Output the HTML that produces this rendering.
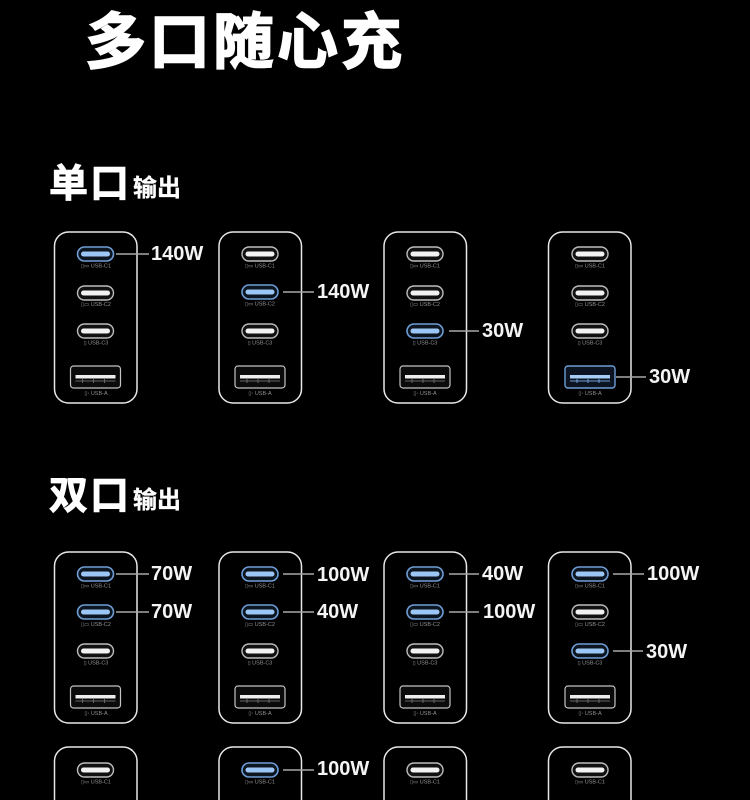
<!DOCTYPE html>
<html lang="zh"><head><meta charset="utf-8">
<style>
html,body{margin:0;padding:0;background:#000;width:750px;height:800px;overflow:hidden}
svg{display:block}
.t{font-family:"Liberation Sans","Noto Sans CJK SC",sans-serif;font-weight:700;fill:#fff}
.w{font-family:"Liberation Sans",sans-serif;font-weight:700;font-size:20px;fill:#f4f4f4}
.s{font-family:"Liberation Sans",sans-serif;font-size:5.5px;fill:#909090;text-anchor:middle}
.card{fill:none;stroke:#e8e8e8;stroke-width:1.5}
.l{stroke:#a8a8a8;stroke-width:1.4;fill:none}
</style></head><body>
<svg width="750" height="800" viewBox="0 0 750 800" xmlns="http://www.w3.org/2000/svg">
<defs>
<g id="c"><rect x="-18" y="-7" width="36" height="14" rx="7" fill="#111" stroke="#bdbdbd" stroke-width="1.4"/><rect x="-14.5" y="-2.5" width="29" height="5" rx="2.5" fill="#f2f2f2"/></g>
<g id="b"><rect x="-18" y="-7" width="36" height="14" rx="7" fill="#0d1520" stroke="#6f9ed6" stroke-width="1.6"/><rect x="-14.5" y="-2.5" width="29" height="5" rx="2.5" fill="#9cc6f5"/></g>
<g id="a"><rect x="-25" y="-11" width="50" height="22" rx="3" fill="#0b0b0b" stroke="#c4c4c4" stroke-width="1.2"/><rect x="-20" y="-2" width="40" height="3.5" fill="#eee"/><path d="M-20 4H20M-13 2V6M-2 2V6M9 2V6" stroke="#666" stroke-width="1" fill="none"/></g>
<g id="ab"><rect x="-25" y="-11" width="50" height="22" rx="3" fill="#0b1420" stroke="#6f9ed6" stroke-width="1.4"/><rect x="-20" y="-2" width="40" height="3.5" fill="#a6cdf7"/><path d="M-20 4H20M-13 2V6M-2 2V6M9 2V6" stroke="#6f9ed6" stroke-width="1" fill="none"/></g>
</defs>

<text class="t" x="85" y="63" font-size="61" letter-spacing="3" stroke="#fff" stroke-width="1.6">多口随心充</text>
<text class="t" x="49" y="197" font-size="39" letter-spacing="2" stroke="#fff" stroke-width=".9">单口</text>
<text class="t" x="133" y="196" font-size="24" stroke="#fff" stroke-width=".3">输出</text>
<text class="t" x="49" y="509" font-size="39" letter-spacing="2" stroke="#fff" stroke-width=".9">双口</text>
<text class="t" x="133" y="508" font-size="24" stroke="#fff" stroke-width=".3">输出</text>

<!-- row 1 -->
<rect class="card" x="54.5" y="232" width="82.5" height="171" rx="14"/>
<rect class="card" x="219" y="232" width="82.5" height="171" rx="14"/>
<rect class="card" x="384" y="232" width="82.5" height="171" rx="14"/>
<rect class="card" x="548.5" y="232" width="82.5" height="171" rx="14"/>

<use href="#b" x="95.5" y="254"/><use href="#c" x="95.5" y="293"/><use href="#c" x="95.5" y="331"/><use href="#a" x="95.5" y="377"/>
<use href="#c" x="260" y="254"/><use href="#b" x="260" y="292"/><use href="#c" x="260" y="331"/><use href="#a" x="260" y="377"/>
<use href="#c" x="425" y="254"/><use href="#c" x="425" y="293"/><use href="#b" x="425" y="331"/><use href="#a" x="425" y="377"/>
<use href="#c" x="590" y="254"/><use href="#c" x="590" y="293"/><use href="#c" x="590" y="331"/><use href="#ab" x="590" y="377"/>

<text class="s" x="96" y="267.5">▯▭ USB-C1</text><text class="s" x="96" y="306">▯▭ USB-C2</text><text class="s" x="96" y="344.5">▯ USB-C3</text><text class="s" x="96" y="395">▯◦ USB-A</text>
<text class="s" x="260" y="267.5">▯▭ USB-C1</text><text class="s" x="260" y="305.5">▯▭ USB-C2</text><text class="s" x="260" y="344.5">▯ USB-C3</text><text class="s" x="260" y="395">▯◦ USB-A</text>
<text class="s" x="425" y="267.5">▯▭ USB-C1</text><text class="s" x="425" y="306">▯▭ USB-C2</text><text class="s" x="425" y="344.5">▯ USB-C3</text><text class="s" x="425" y="395">▯◦ USB-A</text>
<text class="s" x="590" y="267.5">▯▭ USB-C1</text><text class="s" x="590" y="306">▯▭ USB-C2</text><text class="s" x="590" y="344.5">▯ USB-C3</text><text class="s" x="590" y="395">▯◦ USB-A</text>

<path class="l" d="M116 254H149M283 292H314M449 331H479M616 377H646"/>
<text class="w" x="151" y="260">140W</text>
<text class="w" x="317" y="298">140W</text>
<text class="w" x="482" y="337">30W</text>
<text class="w" x="649" y="383">30W</text>

<!-- row 2 -->
<rect class="card" x="54.5" y="552" width="82.5" height="171" rx="14"/>
<rect class="card" x="219" y="552" width="82.5" height="171" rx="14"/>
<rect class="card" x="384" y="552" width="82.5" height="171" rx="14"/>
<rect class="card" x="548.5" y="552" width="82.5" height="171" rx="14"/>

<use href="#b" x="95.5" y="574"/><use href="#b" x="95.5" y="612"/><use href="#c" x="95.5" y="651"/><use href="#a" x="95.5" y="697"/>
<use href="#b" x="260" y="574"/><use href="#b" x="260" y="612"/><use href="#c" x="260" y="651"/><use href="#a" x="260" y="697"/>
<use href="#b" x="425" y="574"/><use href="#b" x="425" y="612"/><use href="#c" x="425" y="651"/><use href="#a" x="425" y="697"/>
<use href="#b" x="590" y="574"/><use href="#c" x="590" y="612"/><use href="#b" x="590" y="651"/><use href="#a" x="590" y="697"/>

<text class="s" x="96" y="587.5">▯▭ USB-C1</text><text class="s" x="96" y="626">▯▭ USB-C2</text><text class="s" x="96" y="664.5">▯ USB-C3</text><text class="s" x="96" y="715">▯◦ USB-A</text>
<text class="s" x="260" y="587.5">▯▭ USB-C1</text><text class="s" x="260" y="626">▯▭ USB-C2</text><text class="s" x="260" y="664.5">▯ USB-C3</text><text class="s" x="260" y="715">▯◦ USB-A</text>
<text class="s" x="425" y="587.5">▯▭ USB-C1</text><text class="s" x="425" y="626">▯▭ USB-C2</text><text class="s" x="425" y="664.5">▯ USB-C3</text><text class="s" x="425" y="715">▯◦ USB-A</text>
<text class="s" x="590" y="587.5">▯▭ USB-C1</text><text class="s" x="590" y="626">▯▭ USB-C2</text><text class="s" x="590" y="664.5">▯ USB-C3</text><text class="s" x="590" y="715">▯◦ USB-A</text>

<path class="l" d="M116 574H149M116 612H149M283 574H314M283 612H314M449 574H479M449 612H479M613 574H644M613 651H643"/>
<text class="w" x="151" y="580">70W</text>
<text class="w" x="151" y="618">70W</text>
<text class="w" x="317" y="581">100W</text>
<text class="w" x="317" y="618">40W</text>
<text class="w" x="482" y="580">40W</text>
<text class="w" x="483" y="618">100W</text>
<text class="w" x="647" y="580">100W</text>
<text class="w" x="646" y="658">30W</text>

<!-- row 3 -->
<path class="card" d="M54.5 800V761a14 14 0 0 1 14-14H123a14 14 0 0 1 14 14V800"/>
<path class="card" d="M219 800V761a14 14 0 0 1 14-14H287.5a14 14 0 0 1 14 14V800"/>
<path class="card" d="M384 800V761a14 14 0 0 1 14-14H452.5a14 14 0 0 1 14 14V800"/>
<path class="card" d="M548.5 800V761a14 14 0 0 1 14-14H617a14 14 0 0 1 14 14V800"/>
<use href="#c" x="95.5" y="770"/><use href="#b" x="260" y="770"/><use href="#c" x="425" y="770"/><use href="#c" x="590" y="770"/>
<text class="s" x="96" y="783.5">▯▭ USB-C1</text><text class="s" x="260" y="783.5">▯▭ USB-C1</text><text class="s" x="425" y="783.5">▯▭ USB-C1</text><text class="s" x="590" y="783.5">▯▭ USB-C1</text>
<path class="l" d="M283 770H314"/>
<text class="w" x="317" y="775">100W</text>
<text class="w" x="155" y="814.5">100W</text>
<text class="w" x="485" y="814.5">100W</text>
</svg>
</body></html>
